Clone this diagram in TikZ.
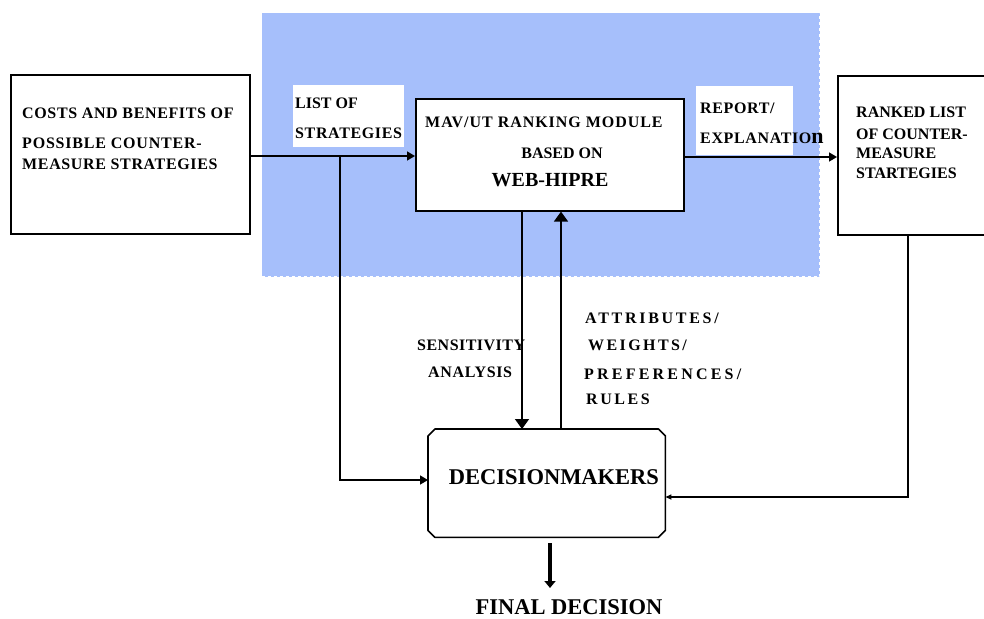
\documentclass[tikz,border=0pt]{standalone}
\usepackage{fontspec}
\setmainfont{Liberation Serif}
\usetikzlibrary{arrows.meta}
\definecolor{panelblue}{RGB}{166,191,251}
\begin{document}
\begin{tikzpicture}[x=1pt,y=-1pt,
  box/.style={draw, line width=1.6pt, rectangle, inner sep=0pt, anchor=north west},
  whitebox/.style={fill=white, draw=none, rectangle, inner sep=0pt, anchor=north west},
  lbl/.style={anchor=base west, inner sep=0pt, font=\bfseries\fontsize{16}{18}\selectfont},
  lblc/.style={anchor=base, inner sep=0pt, font=\bfseries\fontsize{16}{18}\selectfont},
  biglbl/.style={anchor=base, inner sep=0pt, font=\bfseries\fontsize{22.5}{24}\selectfont},
  ls/.style={execute at begin node={\addfontfeature{LetterSpace=#1}}},
  line/.style={line width=1.6pt},
  conn/.style={line width=1.6pt, -{Triangle[length=8pt,width=9pt]}},
  vconn/.style={line width=1.6pt, -{Triangle[length=10pt,width=14pt]}},
  smallconn/.style={line width=1.6pt, -{Triangle[length=6pt,width=5pt]}},
  finalconn/.style={line width=4pt, -{Triangle[length=7pt,width=11pt]}}
]
\useasboundingbox (0,0) rectangle (984,618);
% blue panel
\node[fill=panelblue, draw=white, dashed, line width=1.2pt, rectangle, inner sep=0pt,
  anchor=north west, minimum width=558, minimum height=264] (panel) at (261,12) {};
% boxes
\node[box, minimum width=239, minimum height=159] (cost) at (10,74) {};
\node[whitebox, minimum width=111, minimum height=62] (listbg) at (293,85) {};
\node[whitebox, minimum width=97, minimum height=69] (repbg) at (696,86) {};
\node[box, fill=white, minimum width=268, minimum height=112] (mav) at (415,98) {};
\node[box, fill=white, minimum width=160, minimum height=159] (ranked) at (837,75) {};
\node[rectangle, draw=none, inner sep=0pt, minimum width=237, minimum height=108,
  anchor=north west] (dm) at (428,429) {};
\draw[line, line join=round]
  ([xshift=7pt]dm.north west) -- ([xshift=-7pt]dm.north east) -- ([yshift=-7pt]dm.north east)
  -- ([yshift=7pt]dm.south east) -- ([xshift=-7pt]dm.south east) -- ([xshift=7pt]dm.south west)
  -- ([yshift=7pt]dm.south west) -- ([yshift=-7pt]dm.north west) -- cycle;
% texts
\node[lbl, ls=4] (t1) at (22,118) {COSTS AND BENEFITS OF};
\node[lbl, ls=5] (t2) at (22,148) {POSSIBLE COUNTER-};
\node[lbl, ls=4] (t3) at (22,169) {MEASURE STRATEGIES};
\node[lbl] (t4) at (295,108) {LIST OF};
\node[lbl, ls=4] (t5) at (295,138) {STRATEGIES};
\node[lbl, ls=6] (t6) at (425,127) {MAV/UT RANKING MODULE};
\node[lblc] (t7) at (562,158) {BASED ON};
\node[anchor=base, inner sep=0pt, font=\bfseries\fontsize{20}{22}\selectfont] (t8) at (550,186) {WEB-HIPRE};
\node[lbl, ls=4] (t9) at (700,113) {REPORT/};
\node[lbl, ls=4] (t10) at (700,143) {EXPLANATIO{\fontsize{22}{22}\selectfont n}};
\node[lbl] (t11) at (856,117) {RANKED LIST};
\node[lbl] (t12) at (856,139) {OF COUNTER-};
\node[lbl] (t13) at (856,158) {MEASURE};
\node[lbl] (t14) at (856,178) {STARTEGIES};
\node[lbl, ls=3] (t15) at (417,350) {SENSITIVITY};
\node[lbl, ls=4] (t16) at (428,377) {ANALYSIS};
\node[lbl, ls=17] (t17) at (585,323) {ATTRIBUTES/};
\node[lbl, ls=15] (t18) at (588,350) {WEIGHTS/};
\node[lbl, ls=20] (t19) at (584,379) {PREFERENCES/};
\node[lbl, ls=16] (t20) at (586,404) {RULES};
\node[biglbl] (t21) at (554,484) {DECISIONMAKERS};
\node[biglbl] (t22) at (569,614) {FINAL DECISION};
% connector helpers
\coordinate (j1) at (340,156);
\coordinate (j2) at (340,480);
\coordinate (r1) at (700,157);
\coordinate (s1) at (522,300);
\coordinate (s2) at (561,300);
\coordinate (k1) at (908,497);
\coordinate (f0) at (550,543);
\coordinate (f1) at (550,588);
% connectors
\draw[conn] (cost.east |- j1) -- (mav.west |- j1);
\draw[conn] (j1) -- (j2) -- (dm.west |- j2);
\draw[conn] (mav.east |- r1) -- (ranked.west |- r1);
\draw[vconn] (mav.south -| s1) -- (dm.north -| s1);
\draw[vconn] (dm.north -| s2) -- (mav.south -| s2);
\draw[smallconn] (ranked.south -| k1) -- (k1) -- (dm.east |- k1);
\draw[finalconn] (f0) -- (f1);
\end{tikzpicture}
\end{document}
